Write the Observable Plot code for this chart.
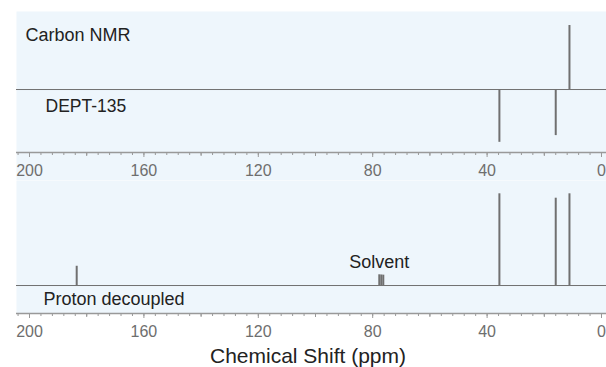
<!DOCTYPE html>
<html><head><meta charset="utf-8">
<script src="https://cdn.jsdelivr.net/npm/d3@7"></script>
<script src="https://cdn.jsdelivr.net/npm/@observablehq/plot@0.6"></script>
<style>body{margin:0;background:#fff} svg{display:block}</style>
</head><body><div id="chart"></div>
<script>
// ---- data ----
const xDomain = [204.55, -1.75];            // ppm, reversed axis
const majorTicks = [200, 160, 120, 80, 40, 0];
const mediumTicks = [180, 140, 100, 60, 20];
const minorTicks = d3.range(0, 205, 4);
// DEPT-135 spectrum (relative intensity; negative = CH2)
const deptShift = [35.7, 16.0, 11.2];
const deptIntensity = [-82.5, -72, 100];
// Proton-decoupled spectrum
const decShift = [183.5, 77.7, 77.0, 76.3, 35.7, 16.0, 11.2];
const decIntensity = [21, 11.7, 11.5, 11.3, 100, 95.2, 100];
const panelLabels = ["Carbon NMR", "DEPT-135", "Proton decoupled"];
const solventLabel = "Solvent";
const axisTitle = "Chemical Shift (ppm)";

const dept = deptShift.map((p, i) => ({ppm: p, h: deptIntensity[i]}));
const dec = decShift.map((p, i) => ({ppm: p, h: decIntensity[i]}));

const BG = "#eef6fc", INK = "#707070", AX = "#999", TXT = "#222";
const FONT = "'Liberation Sans', Arial, Helvetica, sans-serif";

function axisMarks() {
  return [
    Plot.axisX({ticks: minorTicks, tickSize: 3, tickFormat: () => "", stroke: AX, label: null}),
    Plot.axisX({ticks: mediumTicks, tickSize: 4, tickFormat: () => "", stroke: AX, label: null}),
    Plot.axisX({ticks: majorTicks, tickSize: 5, tickPadding: 7, fontSize: 16, fill: "#6e6e6e", stroke: AX, label: null})
  ];
}

const topChart = Plot.plot({
  width: 606, height: 180,
  marginLeft: 16, marginRight: 0, marginTop: 11, marginBottom: 28,
  style: {fontFamily: FONT, background: "transparent"},
  x: {domain: xDomain, axis: null},
  y: {domain: [-98.4, 121.9], axis: null},
  marks: [
    Plot.frame({fill: BG, stroke: "none", insetBottom: -28}),
    Plot.ruleY([0], {stroke: INK, strokeWidth: 1}),
    Plot.ruleX(dept, {x: "ppm", y1: 0, y2: "h", stroke: INK, strokeWidth: 2}),
    Plot.ruleY([-98.4], {stroke: AX, strokeWidth: 1.5}),
    ...axisMarks(),
    Plot.text([panelLabels[0]], {text: d => d, frameAnchor: "top-left", textAnchor: "start", lineAnchor: "bottom", dx: 9, dy: 29, fontSize: 18, fill: TXT}),
    Plot.text([panelLabels[1]], {text: d => d, frameAnchor: "top-left", textAnchor: "start", lineAnchor: "bottom", dx: 29, dy: 100, fontSize: 17.5, fill: TXT})
  ]
});

const bottomChart = Plot.plot({
  width: 606, height: 187,
  marginLeft: 16, marginRight: 0, marginTop: 0, marginBottom: 54,
  style: {fontFamily: FONT, background: "transparent"},
  x: {domain: xDomain, axis: null},
  y: {domain: [-30.5, 114.5], axis: null},
  marks: [
    Plot.frame({fill: BG, stroke: "none"}),
    Plot.ruleY([0], {stroke: INK, strokeWidth: 1}),
    Plot.ruleX(dec, {x: "ppm", y1: 0, y2: "h", stroke: INK, strokeWidth: 2}),
    Plot.ruleY([-30.5], {stroke: AX, strokeWidth: 1.5}),
    ...axisMarks(),
    Plot.text([panelLabels[2]], {text: d => d, frameAnchor: "bottom-left", textAnchor: "start", lineAnchor: "bottom", dx: 27, dy: -9, fontSize: 18, fill: TXT}),
    Plot.text([{ppm: decShift[2], h: decIntensity[1], t: solventLabel}], {x: "ppm", y: "h", text: "t", lineAnchor: "bottom", dx: -2, dy: -7, fontSize: 18, fill: TXT}),
    Plot.text([axisTitle], {text: d => d, frameAnchor: "bottom", lineAnchor: "bottom", dx: -3.5, dy: 49, fontSize: 21, fill: TXT})
  ]
});

const c = document.getElementById("chart");
c.appendChild(topChart);
c.appendChild(bottomChart);
</script>
</body></html>
